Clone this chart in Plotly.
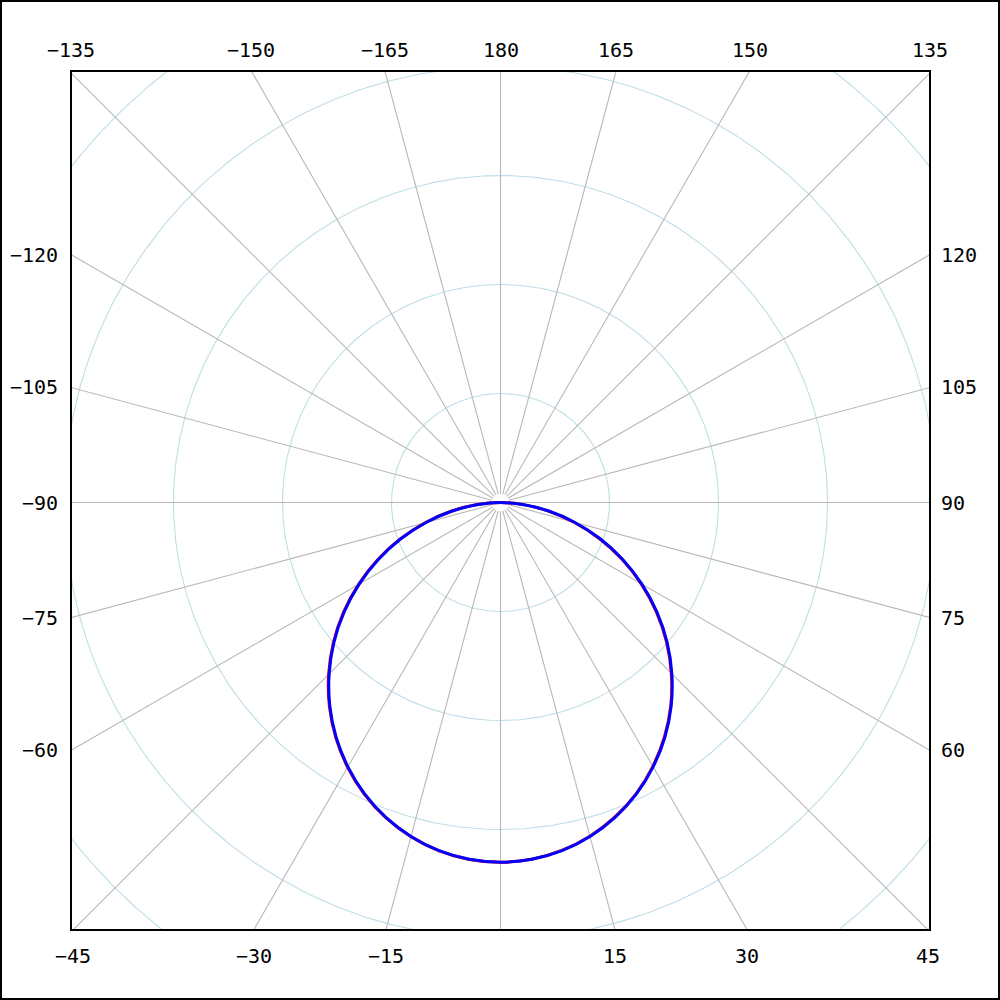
import numpy as np
import plotly.graph_objects as go

# ---- data (intensities, angle measured from nadir) ----
gamma_deg = [-90, -85, -80, -75, -70, -65, -60, -55, -50, -45, -40, -35, -30, -25, -20, -15, -10, -5,
             0, 5, 10, 15, 20, 25, 30, 35, 40, 45, 50, 55, 60, 65, 70, 75, 80, 85, 90]
intensity_c0 = [0, 21.5, 46.0, 71.6, 98.2, 124.6, 150.5, 176.0, 200.2, 223.0, 244.2, 263.4, 280.5, 295.4,
                307.7, 317.4, 324.5, 328.7, 330.0, 328.5, 324.1, 316.9, 307.0, 294.6, 279.5, 262.3,
                243.0, 221.6, 198.8, 174.4, 148.9, 122.8, 96.4, 69.8, 44.0, 19.5, 0]
intensity_c90 = [0, 20.5, 45.0, 70.7, 97.3, 123.7, 149.7, 175.2, 199.5, 222.3, 243.6, 262.9, 280.0, 295.0,
                 307.4, 317.2, 324.3, 328.6, 330.0, 328.6, 324.3, 317.2, 307.4, 295.0, 280.0, 262.9,
                 243.6, 222.3, 199.5, 175.2, 149.7, 123.7, 97.3, 70.7, 45.0, 20.5, 0]

ring_values = [100, 200, 300, 400, 500, 600]
spoke_angles = list(range(-180, 180, 15))

top_labels = [-135, -150, -165, 180, 165, 150, 135]
left_labels = [-120, -105, -90, -75, -60]
right_labels = [120, 105, 90, 75, 60]
bottom_labels = [-45, -30, -15, 15, 30, 45]

# ---- geometry (axis ranges) ----
XR = 394.0
Y_TOP = 395.9
Y_BOT = -392.2

def to_xy(gdeg, r):
    g = np.radians(np.asarray(gdeg, dtype=float))
    r = np.asarray(r, dtype=float)
    return r * np.sin(g), -r * np.cos(g)

fig = go.Figure()

# rings
tt = np.linspace(0, 360, 721)
rx, ry = [], []
for rv in ring_values:
    x, y = to_xy(tt, np.full_like(tt, rv))
    rx += list(x) + [None]
    ry += list(y) + [None]
fig.add_trace(go.Scatter(x=rx, y=ry, mode="lines", line=dict(color="#bfdde8", width=1.1),
                         hoverinfo="skip", showlegend=False))

# spokes
sx, sy = [], []
for a in spoke_angles:
    x, y = to_xy([a, a], [8, 800])
    sx += list(x) + [None]
    sy += list(y) + [None]
fig.add_trace(go.Scatter(x=sx, y=sy, mode="lines", line=dict(color="#b8b8b8", width=1.1),
                         hoverinfo="skip", showlegend=False))

# curves
x0, y0 = to_xy(gamma_deg, intensity_c0)
fig.add_trace(go.Scatter(x=x0, y=y0, mode="lines", line=dict(color="red", width=3, shape="spline"),
                         name="C0-C180", showlegend=False))
x1, y1 = to_xy(gamma_deg, intensity_c90)
fig.add_trace(go.Scatter(x=x1, y=y1, mode="lines", line=dict(color="blue", width=3, shape="spline"),
                         name="C90-C270", showlegend=False))

def lab(a):
    return str(a).replace("-", "\u2212")

font = dict(family="DejaVu Sans Mono", size=20, color="black")
ann = []
for a in top_labels:
    xv = float(np.clip(-Y_TOP * np.tan(np.radians(a)), -XR, XR))
    ann.append(dict(x=xv, y=Y_TOP, xref="x", yref="y", text=lab(a),
                    showarrow=False, xanchor="center", yanchor="middle", yshift=21, font=font))
for a in bottom_labels:
    xv = float(np.clip(-Y_BOT * np.tan(np.radians(a)), -XR, XR))
    ann.append(dict(x=xv, y=Y_BOT, xref="x", yref="y", text=lab(a),
                    showarrow=False, xanchor="center", yanchor="middle", yshift=-26, font=font))
for a in left_labels:
    ann.append(dict(x=-XR, y=XR / np.tan(np.radians(a)), xref="x", yref="y", text=lab(a),
                    showarrow=False, xanchor="right", yanchor="middle", xshift=-11, font=font))
for a in right_labels:
    ann.append(dict(x=XR, y=-XR / np.tan(np.radians(a)), xref="x", yref="y", text=lab(a),
                    showarrow=False, xanchor="left", yanchor="middle", xshift=9, font=font))

W = 859.0
shapes = [
    dict(type="rect", xref="paper", yref="paper", x0=0, x1=1, y0=0, y1=1,
         line=dict(color="black", width=2)),
    dict(type="rect", xref="paper", yref="paper",
         x0=(1 - 71) / W, x1=(999 - 71) / W, y0=(930 - 999) / W, y1=(930 - 1) / W,
         line=dict(color="black", width=2)),
]

fig.update_layout(
    width=1000, height=1000,
    margin=dict(l=71, r=70, t=71, b=70, pad=0),
    plot_bgcolor="white", paper_bgcolor="white",
    xaxis=dict(range=[-XR, XR], showgrid=False, zeroline=False, showticklabels=False,
               ticks="", showline=False, fixedrange=True),
    yaxis=dict(range=[Y_BOT, Y_TOP], showgrid=False, zeroline=False, showticklabels=False,
               ticks="", showline=False, fixedrange=True),
    annotations=ann, shapes=shapes, showlegend=False,
)

fig.write_html("out.html", config={"displayModeBar": False},
               post_script="document.body.style.margin='0';document.body.style.overflow='hidden';")
